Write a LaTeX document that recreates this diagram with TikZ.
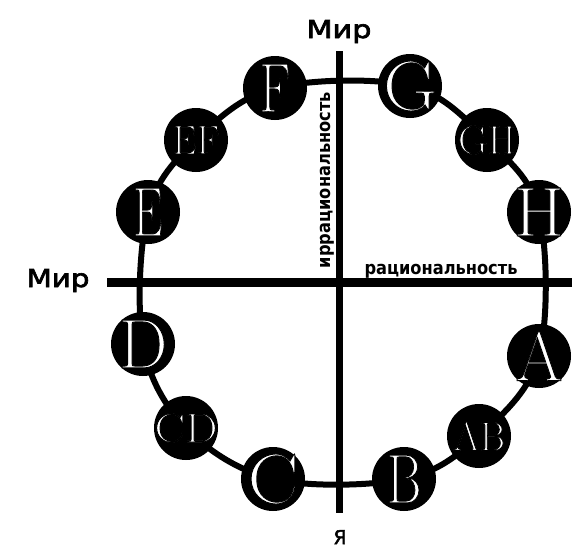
\documentclass[tikz,border=0pt]{standalone}
\usepackage{fontspec}
\usepackage{graphicx}
\newfontfamily\labfont{DejaVu Sans}[FakeBold=2.5]
\newfontfamily\axfont{DejaVu Sans}
\usetikzlibrary{backgrounds}
\newcommand\poleletter[2]{\makebox[0pt]{\special{pdf:literal direct 0 0 0 RG 2 Tr 0.9 w}\resizebox{#1}{\height}{#2}\special{pdf:literal direct 0 Tr}}}
\tikzset{
  pole/.style={circle, fill=black, minimum size=64pt, inner sep=0pt, text=white,
    font=\fontsize{70}{70}\selectfont},
  duo/.style={pole, font=\fontsize{41}{41}\selectfont},
  ring/.style={line width=6pt},
  vaxis/.style={line width=7pt},
  haxis/.style={line width=9pt},
  lab/.style={inner sep=0pt, font=\labfont\fontsize{24.7}{25}\selectfont},
  smalllab/.style={inner sep=0pt, font=\labfont\fontsize{19}{19}\selectfont},
  axlab/.style={inner sep=0pt, font=\axfont\bfseries\fontsize{18.3}{18}\selectfont}
}
\begin{document}
\begin{tikzpicture}[x=1pt,y=-1pt]
\useasboundingbox (0,0) rectangle (572,552);
% poles
\node[pole] (F)  at (275,88)  {\poleletter{31pt}{F}};
\node[pole] (G)  at (410,86)  {\poleletter{54pt}{G}};
\node[duo]  (EF) at (196,140) {\poleletter{47pt}{EF}};
\node[duo]  (GH) at (487,140) {\poleletter{58pt}{GH}};
\node[pole] (E)  at (148,212) {\poleletter{30pt}{E}};
\node[pole] (H)  at (539,212) {\poleletter{51pt}{H}};
\node[pole] (D)  at (143,344) {\poleletter{49pt}{D}};
\node[pole] (A)  at (539,356) {\poleletter{47pt}{A}};
\node[duo]  (CD) at (186,428) {\poleletter{63pt}{CD}};
\node[duo]  (AB) at (479,436) {\poleletter{52pt}{AB}};
\node[pole] (C)  at (273,479) {\poleletter{51pt}{C}};
\node[pole] (B)  at (404,479) {\poleletter{35pt}{B}};
% axis ends
\coordinate (vt) at (339,51);
\coordinate (vb) at (339,513);
\coordinate (hl) at (107,282);
\coordinate (hr) at (572,282);
% labels
\node[lab, anchor=base] (mtop) at (339,38) {\resizebox{65pt}{\height}{Мир}};
\node[lab, anchor=base] (mleft) at (58,287) {\resizebox{63pt}{\height}{Мир}};
\node[smalllab, anchor=base] (ya) at (340,544) {Я};
\node[axlab, anchor=base] (rat) at (441,274) {\resizebox{153pt}{\height}{рациональность}};
\node[axlab, anchor=base, rotate=90] (irr) at (330,180) {\resizebox{176pt}{\height}{иррациональность}};
\begin{scope}[on background layer]
  \fill[white] (0,0) rectangle (572,552);
  \draw[ring] plot[smooth cycle, tension=0.58] coordinates {(F.center) (G.center) (GH.center) (H.center) (A.center) (AB.center) (B.center) (C.center) (CD.center) (D.center) (E.center) (EF.center)};
  \draw[vaxis] (vt) -- (vb);
  \draw[haxis] (hl) -- (hr);
\end{scope}
\end{tikzpicture}
\end{document}
